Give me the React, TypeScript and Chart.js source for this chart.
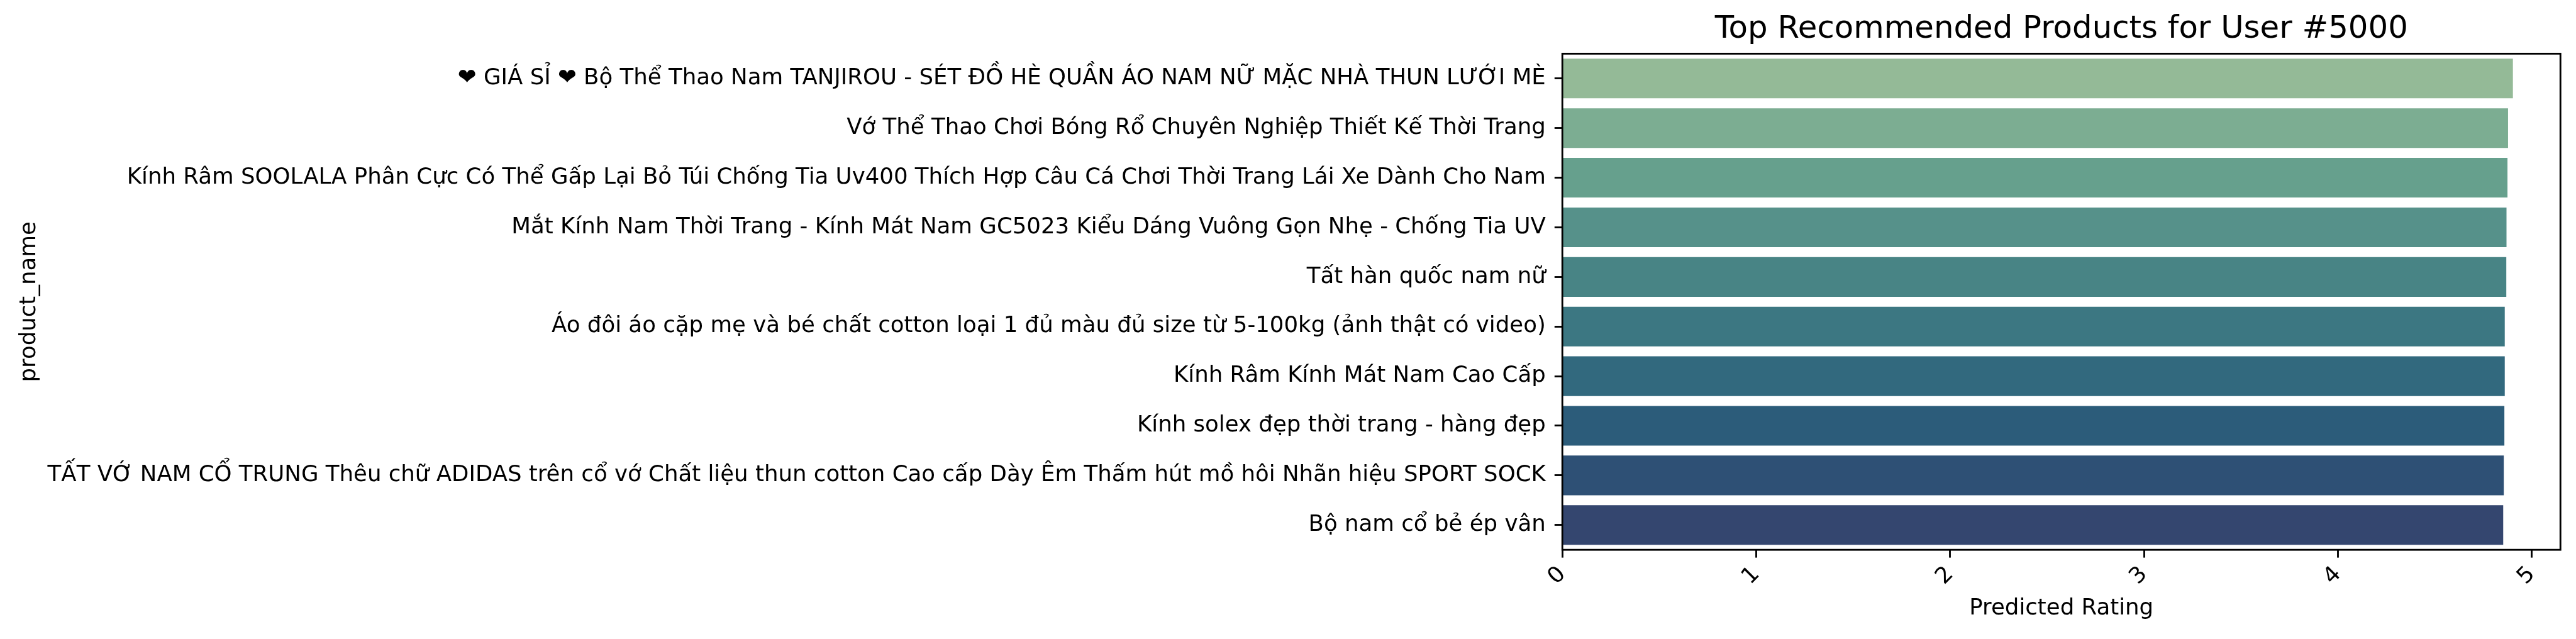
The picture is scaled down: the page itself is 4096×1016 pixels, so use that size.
import React, { useEffect, useRef } from 'react';
import { Chart, registerables } from 'chart.js';

Chart.register(...registerables);

// ---- data ----
const productNames: string[] = [
  '❤ GIÁ SỈ ❤ Bộ Thể Thao Nam TANJIROU - SÉT ĐỒ HÈ QUẦN ÁO NAM NỮ MẶC NHÀ THUN LƯỚI MÈ',
  'Vớ Thể Thao Chơi Bóng Rổ Chuyên Nghiệp Thiết Kế Thời Trang',
  'Kính Râm SOOLALA Phân Cực Có Thể Gấp Lại Bỏ Túi Chống Tia Uv400 Thích Hợp Câu Cá Chơi Thời Trang Lái Xe Dành Cho Nam',
  'Mắt Kính Nam Thời Trang - Kính Mát Nam GC5023 Kiểu Dáng Vuông Gọn Nhẹ - Chống Tia UV',
  'Tất hàn quốc nam nữ',
  'Áo đôi áo cặp mẹ và bé chất cotton loại 1 đủ màu đủ size từ 5-100kg (ảnh thật có video)',
  'Kính Râm Kính Mát Nam Cao Cấp',
  'Kính solex đẹp thời trang - hàng đẹp',
  'TẤT VỚ NAM CỔ TRUNG Thêu chữ ADIDAS trên cổ vớ Chất liệu thun cotton Cao cấp Dày Êm Thấm hút mồ hôi Nhãn hiệu SPORT SOCK',
  'Bộ nam cổ bẻ ép vân',
];

const predictedRatings: number[] = [4.903, 4.878, 4.875, 4.870, 4.869, 4.861, 4.861, 4.859, 4.856, 4.853];

const barColors: string[] = [
  '#94BA97', '#7CAD92', '#66A08D', '#56918A', '#488485',
  '#3C7782', '#32697E', '#2C5C7A', '#2E5075', '#34466F',
];

const xTickValues: number[] = [0, 1, 2, 3, 4, 5];

const chartTitle = 'Top Recommended Products for User #5000';
const xAxisTitle = 'Predicted Rating';
const yAxisTitle = 'product_name';

// ---- layout (reference px * scale) ----
const W = 4096;
const H = 1016;
const S = W / 4798;
const FONT = 'DejaVu Sans';
const tickFont = 41.67 * S;
const titleFont = 58.33 * S;
const lineW = 3.33 * S;
const tickLen = 14.58 * S;
const areaLeft = 2910 * S;
const areaRight = 4769 * S;
const areaTop = 100 * S;
const areaBottom = 1024 * S;

const framePlugin = {
  id: 'frame',
  afterDraw(chart: any) {
    const { ctx, chartArea } = chart;
    ctx.save();
    ctx.strokeStyle = '#000';
    ctx.lineWidth = lineW;
    ctx.strokeRect(chartArea.left, chartArea.top, chartArea.right - chartArea.left, chartArea.bottom - chartArea.top);
    ctx.restore();
  },
};

export default function App() {
  const ref = useRef<HTMLCanvasElement | null>(null);

  useEffect(() => {
    if (!ref.current) return;
    const maxVal = Math.max(...predictedRatings) * 1.05;
    const chart = new Chart(ref.current, {
      type: 'bar',
      data: {
        labels: productNames,
        datasets: [
          {
            data: predictedRatings,
            backgroundColor: barColors,
            borderWidth: 0,
            barPercentage: 0.8,
            categoryPercentage: 1.0,
          },
        ],
      },
      plugins: [framePlugin],
      options: {
        indexAxis: 'y',
        responsive: false,
        maintainAspectRatio: false,
        devicePixelRatio: 1,
        animation: false,
        layout: { padding: { left: 0, top: 0, right: W - areaRight, bottom: 0 } },
        plugins: {
          legend: { display: false },
          tooltip: { enabled: false },
          title: {
            display: true,
            text: chartTitle,
            fullSize: false,
            color: '#000',
            font: { family: FONT, size: titleFont, weight: 'normal', lineHeight: 1.2 },
            padding: { top: 16.7, bottom: areaTop - 16.7 - titleFont * 1.2 },
          },
        },
        scales: {
          x: {
            type: 'linear',
            min: 0,
            max: maxVal,
            afterBuildTicks: (scale: any) => {
              scale.ticks = xTickValues.map((v) => ({ value: v }));
            },
            afterFit: (scale: any) => {
              scale.height = H - areaBottom;
            },
            ticks: {
              autoSkip: false,
              minRotation: 45,
              maxRotation: 45,
              padding: 6,
              color: '#000',
              font: { family: FONT, size: tickFont },
              callback: (v: any) => String(v),
            },
            grid: {
              display: true,
              drawOnChartArea: false,
              drawTicks: true,
              tickLength: tickLen,
              tickWidth: lineW,
              tickColor: '#000',
            },
            border: { display: false },
            title: {
              display: true,
              text: xAxisTitle,
              color: '#000',
              font: { family: FONT, size: tickFont, lineHeight: 1.2 },
              padding: { top: 0, bottom: 27 },
            },
          },
          y: {
            type: 'category',
            offset: true,
            afterFit: (scale: any) => {
              scale.width = areaLeft;
            },
            ticks: {
              autoSkip: false,
              padding: 14,
              color: '#000',
              font: { family: FONT, size: tickFont },
            },
            grid: {
              display: true,
              offset: false,
              drawOnChartArea: false,
              drawTicks: true,
              tickLength: tickLen,
              tickWidth: lineW,
              tickColor: '#000',
            },
            border: { display: false },
            title: {
              display: true,
              text: yAxisTitle,
              color: '#000',
              font: { family: FONT, size: tickFont, lineHeight: 1.2 },
              padding: { top: 25, bottom: 0 },
            },
          },
        },
      } as any,
    });
    return () => chart.destroy();
  }, []);

  return (
    <div style={{ position: 'fixed', left: 0, top: 0, width: W, height: H, background: '#fff' }}>
      <canvas ref={ref} width={W} height={H} style={{ display: 'block', width: W, height: H }} />
    </div>
  );
}
